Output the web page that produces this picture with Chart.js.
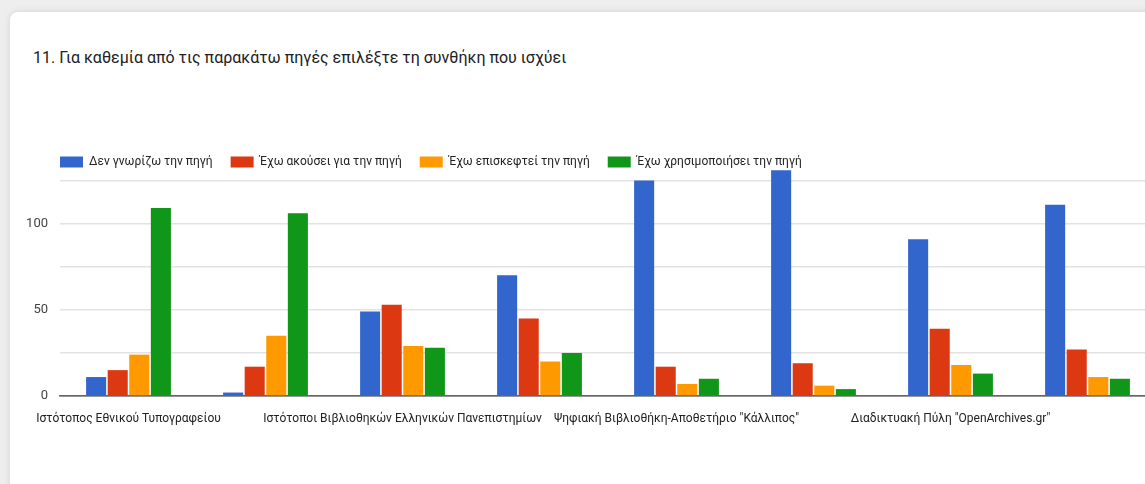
<!DOCTYPE html>
<html>
<head>
<meta charset="utf-8">
<script src="https://cdn.jsdelivr.net/npm/chart.js@4.4.1/dist/chart.umd.min.js"></script>
<style>
  html, body { margin:0; padding:0; width:1145px; height:484px; overflow:hidden; background:#eeeeee; font-family: Roboto, "Noto Sans", sans-serif; }
  #card { position:absolute; left:10px; top:12px; width:1160px; height:500px; background:#fff; border-radius:8px; box-shadow:0 0 6px rgba(0,0,0,0.12); }
  #title { position:absolute; left:33px; top:48px; font-size:16px; color:#202124; white-space:nowrap; letter-spacing:0px; }
  #wrap { position:absolute; left:0; top:0; width:1160px; height:484px; }
</style>
</head>
<body>
<div id="card"></div>
<div id="title">11. Για καθεμία από τις παρακάτω πηγές επιλέξτε τη συνθήκη που ισχύει</div>
<div id="wrap"><canvas id="c" width="1160" height="484"></canvas></div>
<script>
// Categories (only every other label is legible in the reference; the hidden ones are not shown)
const categories = [
  'Ιστότοπος Εθνικού Τυπογραφείου',
  '',
  'Ιστότοποι Βιβλιοθηκών Ελληνικών Πανεπιστημίων',
  '',
  'Ψηφιακή Βιβλιοθήκη-Αποθετήριο "Κάλλιπος"',
  '',
  'Διαδικτυακή Πύλη "OpenArchives.gr"',
  ''
];
const seriesNames = ['Δεν γνωρίζω την πηγή', 'Έχω ακούσει για την πηγή', 'Έχω επισκεφτεί την πηγή', 'Έχω χρησιμοποιήσει την πηγή'];
const notKnown   = [11, 2, 49, 70, 125, 131, 91, 111];
const heardOf    = [15, 17, 53, 45, 17, 19, 39, 27];
const visited    = [24, 35, 29, 20, 7, 6, 18, 11];
const used       = [109, 106, 28, 25, 10, 4, 13, 10];
const yTicks     = [0, 25, 50, 75, 100, 125];
const yLabelled  = [0, 50, 100];
const colors = ['#3366cc', '#dc3912', '#ff9900', '#109618'];

const seriesValues = [notKnown, heardOf, visited, used];

// Let the legend sit just above the bars, aligned with the plot's left edge, as in the reference
const legendShift = {
  id: 'legendShift',
  afterLayout(chart) {
    const l = chart.legend;
    if (!l) return;
    const h = l.height + 4;
    l.top += h; l.bottom += h;
    l.left = chart.chartArea.left - l.options.labels.padding;
  }
};

new Chart(document.getElementById('c'), {
  type: 'bar',
  data: {
    labels: categories,
    datasets: seriesNames.map((n, i) => ({
      label: n,
      data: seriesValues[i],
      backgroundColor: colors[i],
      borderWidth: 0,
      barPercentage: 0.93,
      categoryPercentage: 0.63
    }))
  },
  options: {
    responsive: false,
    animation: false,
    layout: { padding: { left: 0, right: 4, top: 94, bottom: 58 } },
    plugins: {
      tooltip: { enabled: false },
      legend: {
        position: 'top',
        align: 'start',
        labels: {
          boxWidth: 23, boxHeight: 11, padding: 18,
          color: '#222', font: { family: 'Roboto', size: 12 }
        }
      }
    },
    scales: {
      x: {
        grid: { display: false },
        border: { color: '#666', width: 1.5 },
        ticks: {
          autoSkip: false, maxRotation: 0, minRotation: 0, padding: 8,
          color: '#222', font: { family: 'Roboto', size: 12 },
          callback: (v, i) => (i % 2 === 0 ? categories[i] : '')
        },
        afterFit: s => { s.height = 30; }
      },
      y: {
        min: 0, max: 152,
        border: { display: false },
        grid: { color: ctx => ctx.tick && ctx.tick.value === 0 ? '#888' : '#e3e3e3', lineWidth: 1.5, drawTicks: false },
        afterBuildTicks: s => { s.ticks = yTicks.map(v => ({ value: v })); },
        ticks: {
          padding: 12, color: '#444', font: { family: 'Roboto', size: 13 },
          callback: v => (yLabelled.includes(v) ? String(v) : '')
        },
        afterFit: s => { s.width = 60; }
      }
    }
  },
  plugins: [legendShift]
});
</script>
</body>
</html>
